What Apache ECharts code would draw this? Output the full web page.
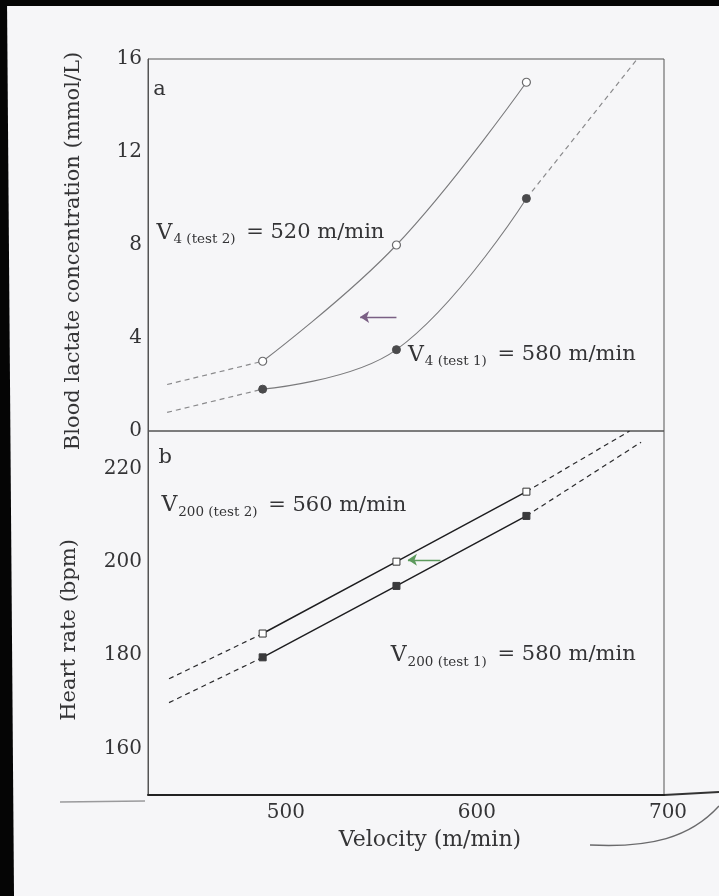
<!DOCTYPE html>
<html>
<head>
<meta charset="utf-8">
<script src="https://cdn.jsdelivr.net/npm/echarts@6/dist/echarts.min.js"></script>
<style>
  html, body { margin: 0; padding: 0; background: #f6f6f8; }
  #chart { width: 719px; height: 896px; }
</style>
</head>
<body>
<div id="chart"></div>
<script>
// Running velocities of the three test stages (m/min)
const velocity = [490, 560, 628];

// Panel a: blood lactate (mmol/L)
const lactateTest1 = [1.8, 3.5, 10.0];
const lactateTest2 = [3.0, 8.0, 15.0];
const lactateTest1Low = [[440, 0.8], [490, 1.8]];
const lactateTest2Low = [[440, 2.0], [490, 3.0]];
const lactateTest1High = [[628, 10.0], [686, 16.0]];

// Panel b: heart rate (bpm)
const hrTest1 = [179.5, 194.8, 209.8];
const hrTest2 = [184.6, 200.0, 215.0];
const hrTest1Low = [[441, 169.8], [490, 179.5]];
const hrTest2Low = [[441, 174.9], [490, 184.6]];
const hrTest1High = [[628, 209.8], [688, 225.6]];
const hrTest2High = [[628, 215.0], [682, 228.0]];

// Tick labels
const velocityTicks = [500, 600, 700];
const lactateTicks = [0, 4, 8, 12, 16];
const hrTicks = [160, 180, 200, 220];

const SERIF = 'DejaVu Serif';
const TXT = '#343436';

const pairs = (ys) => velocity.map((v, i) => [v, ys[i]]);

function annot(coord, sub, main) {
  return {
    coord: coord,
    symbolSize: 0,
    label: {
      show: true,
      position: 'right',
      distance: 0,
      formatter: '{v|V}{s|' + sub + '}{m| = ' + main + '}',
      rich: {
        v: { fontFamily: SERIF, fontSize: 22, color: TXT, lineHeight: 28 },
        s: { fontFamily: SERIF, fontSize: 13.5, color: TXT, lineHeight: 14, verticalAlign: 'bottom', padding: [0, 4, 0, 1] },
        m: { fontFamily: SERIF, fontSize: 21, color: TXT, lineHeight: 28 }
      }
    }
  };
}

function letter(coord, ch) {
  return {
    coord: coord,
    symbolSize: 0,
    label: { show: true, position: 'inside', formatter: ch, fontFamily: SERIF, fontSize: 21, color: TXT }
  };
}

function dashed(xi, yi, data, color) {
  return {
    type: 'line', xAxisIndex: xi, yAxisIndex: yi, data: data, symbol: 'none', silent: true,
    lineStyle: { color: color, width: 1.2, type: [5, 4] }, z: 2
  };
}

function arrow(from, to, color) {
  return {
    silent: true, animation: false,
    symbol: ['none', 'arrow'], symbolSize: 9,
    lineStyle: { color: color, width: 1.4, type: 'solid' },
    label: { show: false },
    data: [[{ coord: from, symbol: 'none' }, { coord: to, symbol: 'arrow', symbolSize: 9 }]]
  };
}

const chart = echarts.init(document.getElementById('chart'), null, { renderer: 'canvas' });

chart.setOption({
  backgroundColor: '#f6f6f8',
  animation: false,
  grid: [
    { left: 148, top: 59, width: 516, height: 372, show: true, borderColor: '#555', borderWidth: 1, backgroundColor: 'transparent' },
    { left: 148, top: 431, width: 516, height: 364, show: true, borderColor: '#555', borderWidth: 1, backgroundColor: 'transparent' }
  ],
  xAxis: [
    { gridIndex: 0, type: 'value', min: 430, max: 700,
      axisLine: { show: false }, axisTick: { show: false }, axisLabel: { show: false }, splitLine: { show: false } },
    { gridIndex: 1, type: 'value', min: 430, max: 700,
      axisLine: { show: true, lineStyle: { color: '#222', width: 2 } },
      axisTick: { show: false }, splitLine: { show: false },
      axisLabel: { customValues: velocityTicks, showMaxLabel: true, fontFamily: SERIF, fontSize: 20, color: TXT, margin: 8,
        padding: [0, 0, 0, 8] },
      name: 'Velocity (m/min)', nameLocation: 'middle', nameGap: 34,
      nameTextStyle: { fontFamily: SERIF, fontSize: 22, color: TXT, padding: [0, 0, 0, 48] } }
  ],
  yAxis: [
    { gridIndex: 0, type: 'value', min: 0, max: 16, interval: 4,
      axisLine: { show: true, lineStyle: { color: '#555', width: 1 } },
      axisTick: { show: false }, splitLine: { show: false },
      axisLabel: { fontFamily: SERIF, fontSize: 20, color: TXT, margin: 6, showMinLabel: true, showMaxLabel: true },
      name: 'Blood lactate concentration (mmol/L)', nameLocation: 'middle', nameGap: 64,
      nameTextStyle: { fontFamily: SERIF, fontSize: 21, color: TXT, padding: [0, 12, 0, 0] } },
    { gridIndex: 1, type: 'value', min: 150, max: 228,
      axisLine: { show: true, lineStyle: { color: '#555', width: 1 } },
      axisTick: { show: false }, splitLine: { show: false },
      axisLabel: { customValues: hrTicks, fontFamily: SERIF, fontSize: 20, color: TXT, margin: 6 },
      name: 'Heart rate (bpm)', nameLocation: 'middle', nameGap: 68,
      nameTextStyle: { fontFamily: SERIF, fontSize: 21, color: TXT, padding: [0, 34, 0, 0] } }
  ],
  series: [
    // ---- panel a ----
    dashed(0, 0, lactateTest2Low, '#8a8a8c'),
    dashed(0, 0, lactateTest1Low, '#8a8a8c'),
    dashed(0, 0, lactateTest1High, '#8a8a8c'),
    { name: 'Lactate test 2', type: 'line', xAxisIndex: 0, yAxisIndex: 0, data: pairs(lactateTest2),
      smooth: 0.4, symbol: 'circle', symbolSize: 8,
      lineStyle: { color: '#7a7a7c', width: 1.1 },
      itemStyle: { color: '#ffffff', borderColor: '#6a6a6c', borderWidth: 1.2 }, z: 3,
      markPoint: { silent: true, animation: false, data: [
        letter([436, 14.7], 'a'),
        annot([434.5, 8.52], '4 (test 2)', '520 m/min')
      ] },
      markLine: arrow([560, 4.9], [541, 4.9], '#7a5f84') },
    { name: 'Lactate test 1', type: 'line', xAxisIndex: 0, yAxisIndex: 0, data: pairs(lactateTest1),
      smooth: 0.4, symbol: 'circle', symbolSize: 8,
      lineStyle: { color: '#7a7a7c', width: 1.1 },
      itemStyle: { color: '#4a4a4c', borderColor: '#4a4a4c', borderWidth: 1 }, z: 3,
      markPoint: { silent: true, animation: false, data: [
        annot([566, 3.27], '4 (test 1)', '580 m/min')
      ] } },
    // ---- panel b ----
    dashed(1, 1, hrTest2Low, '#2a2a2c'),
    dashed(1, 1, hrTest1Low, '#2a2a2c'),
    dashed(1, 1, hrTest2High, '#2a2a2c'),
    dashed(1, 1, hrTest1High, '#2a2a2c'),
    { name: 'Heart rate test 2', type: 'line', xAxisIndex: 1, yAxisIndex: 1, data: pairs(hrTest2),
      symbol: 'rect', symbolSize: 7,
      lineStyle: { color: '#1e1e20', width: 1.5 },
      itemStyle: { color: '#ffffff', borderColor: '#333', borderWidth: 1 }, z: 3,
      markPoint: { silent: true, animation: false, data: [
        letter([439, 222.4], 'b'),
        annot([437, 212.1], '200 (test 2)', '560 m/min')
      ] },
      markLine: arrow([583, 200.4], [566, 200.4], '#5d9a5d') },
    { name: 'Heart rate test 1', type: 'line', xAxisIndex: 1, yAxisIndex: 1, data: pairs(hrTest1),
      symbol: 'rect', symbolSize: 7,
      lineStyle: { color: '#1e1e20', width: 1.5 },
      itemStyle: { color: '#3a3a3c', borderColor: '#3a3a3c', borderWidth: 1 }, z: 3,
      markPoint: { silent: true, animation: false, data: [
        annot([557, 180.0], '200 (test 1)', '580 m/min')
      ] } }
  ],
  graphic: [
    // dark page edges
    { type: 'rect', shape: { x: 0, y: 0, width: 719, height: 6 }, style: { fill: '#050505' }, silent: true },
    { type: 'polygon', shape: { points: [[0, 0], [7, 0], [14, 896], [0, 896]] }, style: { fill: '#050505' }, silent: true },
    // baseline running on past the frame, and the page fold under it
    { type: 'line', shape: { x1: 664, y1: 795, x2: 719, y2: 792 }, style: { stroke: '#333', lineWidth: 2 }, silent: true },
    { type: 'line', shape: { x1: 60, y1: 802, x2: 145, y2: 801 }, style: { stroke: '#9a9a9c', lineWidth: 1.5 }, silent: true },
    { type: 'bezierCurve', shape: { x1: 590, y1: 845, cpx1: 650, cpy1: 848, cpx2: 690, cpy2: 838, x2: 719, y2: 806 },
      style: { stroke: '#6a6a6c', lineWidth: 1.5, fill: null }, silent: true }
  ]
});
</script>
</body>
</html>
